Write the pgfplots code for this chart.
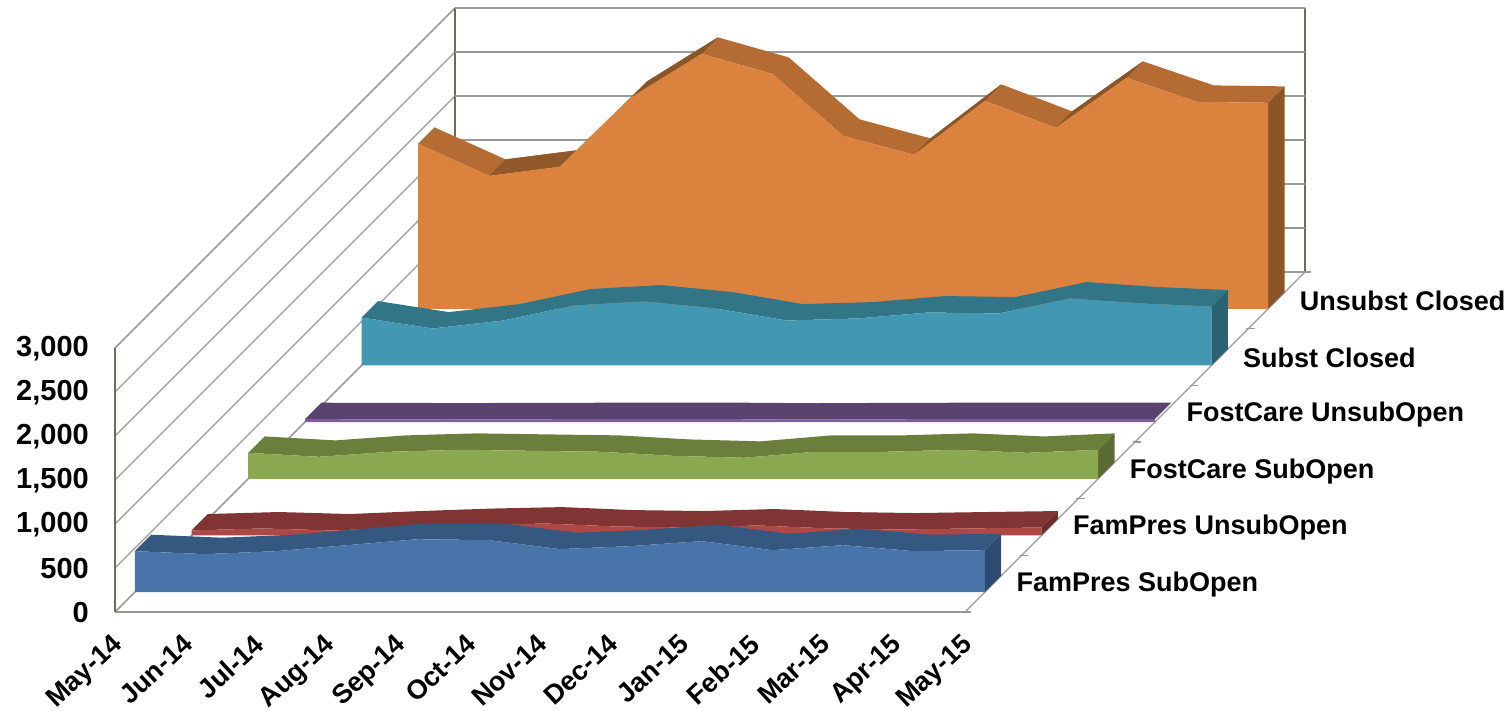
\documentclass[border=0pt]{standalone}
\usepackage{fontspec}
\setmainfont{Liberation Sans}
\usepackage{pgfplots}
\pgfplotsset{compat=1.18}
\definecolor{gridc}{HTML}{999999}
\definecolor{axisc}{HTML}{6F6C55}
\definecolor{orF}{HTML}{DB833E}\definecolor{orT}{HTML}{B46C33}\definecolor{orS}{HTML}{8B5528}
\definecolor{teF}{HTML}{4298B3}\definecolor{teT}{HTML}{327587}\definecolor{teS}{HTML}{2A6173}
\definecolor{puF}{HTML}{7D5D9A}\definecolor{puT}{HTML}{5A436F}
\definecolor{grF}{HTML}{8AA84F}\definecolor{grT}{HTML}{6A7F3C}\definecolor{grS}{HTML}{5A6B33}
\definecolor{reF}{HTML}{AE4845}\definecolor{reT}{HTML}{803434}\definecolor{reS}{HTML}{6E2B2B}
\definecolor{blF}{HTML}{4874AA}\definecolor{blT}{HTML}{34587F}\definecolor{blS}{HTML}{2E4A70}
\begin{document}
\begin{tikzpicture}[x=1pt,y=1pt]
\useasboundingbox (0,0) rectangle (1509,711);
\begin{axis}[
  at={(115pt,99pt)}, anchor=origin,
  x={(70.83pt,0pt)}, y={(56.67pt,56.67pt)}, z={(0pt,0.088pt)},
  xmin=0, xmax=12, ymin=0, ymax=6, zmin=0, zmax=3000,
  clip=false,
  xtick={0,...,12},
  xticklabels={May-14,Jun-14,Jul-14,Aug-14,Sep-14,Oct-14,Nov-14,Dec-14,Jan-15,Feb-15,Mar-15,Apr-15,May-15},
  ytick={0.5,1.5,2.5,3.5,4.5,5.5},
  yticklabels={FamPres SubOpen,FamPres UnsubOpen,FostCare SubOpen,FostCare UnsubOpen,Subst Closed,Unsubst Closed},
  ytick pos=left,
  xtick pos=left,
  ztick pos=left,
  ztick={0,500,...,3000},
  zmajorgrids=true,
  major grid style={draw=gridc,line width=1.2pt},
  tick label style={font=\fontsize{27}{30}\selectfont\bfseries,inner sep=0pt},
  /pgf/number format/.cd, 1000 sep={,}, assume math mode=true,
  /pgfplots/.cd,
  xticklabel style={rotate=43,anchor=north east,xshift=-17pt,yshift=-12pt},
  yticklabel style={anchor=west,xshift=23pt,yshift=-1pt},
  zticklabel style={font=\fontsize{29}{30}\selectfont\bfseries,anchor=east,xshift=-26pt,yshift=-1pt},
  major tick length=0pt,
  axis line style={draw=gridc,line width=1.3pt},
  every outer z axis line/.append style={draw=axisc,line width=1.5pt},
  unbounded coords=jump,
]
% depth axis ticks along the right edge of the floor
\addplot3[draw=gridc,line width=1.2pt] coordinates {(11.97,0,0)(12.09,0,0)(12,0,nan)(11.97,1,0)(12.09,1,0)(12,1,nan)(11.97,2,0)(12.09,2,0)(12,2,nan)(11.97,3,0)(12.09,3,0)(12,3,nan)(11.97,4,0)(12.09,4,0)(12,4,nan)(11.97,5,0)(12.09,5,0)(12,5,nan)(11.97,6,0)(12.09,6,0)};
% Unsubst Closed
\addplot3[fill=orT,draw=none] coordinates {(0,5.35,1875)(1,5.35,1511)(2,5.35,1614)(3,5.35,2398)(4,5.35,2898)(5,5.35,2670)(6,5.35,1966)(7,5.35,1750)(8,5.35,2364)(9,5.35,2057)(10,5.35,2625)(11,5.35,2352)(12,5.35,2341)
 (12,5.64,2341)(11,5.64,2352)(10,5.64,2625)(9,5.64,2057)(8,5.64,2364)(7,5.64,1750)(6,5.64,1966)(5,5.64,2670)(4,5.64,2898)(3,5.64,2398)(2,5.64,1614)(1,5.64,1511)(0,5.64,1875)};
\addplot3[fill=orS!85!orT,draw=none] coordinates {(1,5.35,1511)(2,5.35,1614)(2,5.64,1614)(1,5.64,1511)};
\addplot3[fill=orS,draw=none] coordinates {(3,5.35,2398)(4,5.35,2898)(4,5.64,2898)(3,5.64,2398)};
\addplot3[fill=orS,draw=none] coordinates {(7,5.35,1750)(8,5.35,2364)(8,5.64,2364)(7,5.64,1750)};
\addplot3[fill=orS,draw=none] coordinates {(9,5.35,2057)(10,5.35,2625)(10,5.64,2625)(9,5.64,2057)};
\addplot3[fill=orS,draw=none] coordinates {(12,5.35,0)(12,5.64,0)(12,5.64,2341)(12,5.35,2341)};
\addplot3[fill=orF,draw=none] coordinates {(0,5.35,0)(0,5.35,1875)(1,5.35,1511)(2,5.35,1614)(3,5.35,2398)(4,5.35,2898)(5,5.35,2670)(6,5.35,1966)(7,5.35,1750)(8,5.35,2364)(9,5.35,2057)(10,5.35,2625)(11,5.35,2352)(12,5.35,2341)(12,5.35,0)};
% Subst Closed
\addplot3[fill=teT,draw=none] coordinates {(0,4.35,545)(1,4.35,420)(2,4.35,511)(3,4.35,682)(4,4.35,727)(5,4.35,648)(6,4.35,511)(7,4.35,534)(8,4.35,602)(9,4.35,591)(10,4.35,761)(11,4.35,705)(12,4.35,670)
 (12,4.64,670)(11,4.64,705)(10,4.64,761)(9,4.64,591)(8,4.64,602)(7,4.64,534)(6,4.64,511)(5,4.64,648)(4,4.64,727)(3,4.64,682)(2,4.64,511)(1,4.64,420)(0,4.64,545)};
\addplot3[fill=teS,draw=none] coordinates {(12,4.35,0)(12,4.64,0)(12,4.64,670)(12,4.35,670)};
\addplot3[fill=teF,draw=none] coordinates {(0,4.35,0)(0,4.35,545)(1,4.35,420)(2,4.35,511)(3,4.35,682)(4,4.35,727)(5,4.35,648)(6,4.35,511)(7,4.35,534)(8,4.35,602)(9,4.35,591)(10,4.35,761)(11,4.35,705)(12,4.35,670)(12,4.35,0)};
% FostCare UnsubOpen
\addplot3[fill=puT,draw=none] coordinates {(0,3.35,34)(1,3.35,32)(2,3.35,30)(3,3.35,32)(4,3.35,34)(5,3.35,34)(6,3.35,34)(7,3.35,28)(8,3.35,32)(9,3.35,34)(10,3.35,34)(11,3.35,34)(12,3.35,34)
 (12,3.64,34)(11,3.64,34)(10,3.64,34)(9,3.64,34)(8,3.64,32)(7,3.64,28)(6,3.64,34)(5,3.64,34)(4,3.64,34)(3,3.64,32)(2,3.64,30)(1,3.64,32)(0,3.64,34)};
\addplot3[fill=puF,draw=none] coordinates {(0,3.35,0)(0,3.35,34)(1,3.35,32)(2,3.35,30)(3,3.35,32)(4,3.35,34)(5,3.35,34)(6,3.35,34)(7,3.35,28)(8,3.35,32)(9,3.35,34)(10,3.35,34)(11,3.35,34)(12,3.35,34)(12,3.35,0)};
% FostCare SubOpen
\addplot3[fill=grT,draw=none] coordinates {(0,2.35,295)(1,2.35,250)(2,2.35,307)(3,2.35,330)(4,2.35,318)(5,2.35,307)(6,2.35,261)(7,2.35,239)(8,2.35,307)(9,2.35,307)(10,2.35,330)(11,2.35,295)(12,2.35,330)
 (12,2.64,330)(11,2.64,295)(10,2.64,330)(9,2.64,307)(8,2.64,307)(7,2.64,239)(6,2.64,261)(5,2.64,307)(4,2.64,318)(3,2.64,330)(2,2.64,307)(1,2.64,250)(0,2.64,295)};
\addplot3[fill=grS,draw=none] coordinates {(12,2.35,0)(12,2.64,0)(12,2.64,330)(12,2.35,330)};
\addplot3[fill=grF,draw=none] coordinates {(0,2.35,0)(0,2.35,295)(1,2.35,250)(2,2.35,307)(3,2.35,330)(4,2.35,318)(5,2.35,307)(6,2.35,261)(7,2.35,239)(8,2.35,307)(9,2.35,307)(10,2.35,330)(11,2.35,295)(12,2.35,330)(12,2.35,0)};
% FamPres UnsubOpen
\addplot3[fill=reT,draw=none] coordinates {(0,1.35,57)(1,1.35,80)(2,1.35,57)(3,1.35,91)(4,1.35,119)(5,1.35,136)(6,1.35,102)(7,1.35,91)(8,1.35,114)(9,1.35,80)(10,1.35,68)(11,1.35,80)(12,1.35,91)
 (12,1.64,91)(11,1.64,80)(10,1.64,68)(9,1.64,80)(8,1.64,114)(7,1.64,91)(6,1.64,102)(5,1.64,136)(4,1.64,119)(3,1.64,91)(2,1.64,57)(1,1.64,80)(0,1.64,57)};
\addplot3[fill=reS,draw=none] coordinates {(12,1.35,0)(12,1.64,0)(12,1.64,91)(12,1.35,91)};
\addplot3[fill=reF,draw=none] coordinates {(0,1.35,0)(0,1.35,57)(1,1.35,80)(2,1.35,57)(3,1.35,91)(4,1.35,119)(5,1.35,136)(6,1.35,102)(7,1.35,91)(8,1.35,114)(9,1.35,80)(10,1.35,68)(11,1.35,80)(12,1.35,91)(12,1.35,0)};
% FamPres SubOpen
\addplot3[fill=blT,draw=none] coordinates {(0,0.35,466)(1,0.35,432)(2,0.35,466)(3,0.35,534)(4,0.35,602)(5,0.35,591)(6,0.35,489)(7,0.35,523)(8,0.35,580)(9,0.35,477)(10,0.35,534)(11,0.35,466)(12,0.35,477)
 (12,0.64,477)(11,0.64,466)(10,0.64,534)(9,0.64,477)(8,0.64,580)(7,0.64,523)(6,0.64,489)(5,0.64,591)(4,0.64,602)(3,0.64,534)(2,0.64,466)(1,0.64,432)(0,0.64,466)};
\addplot3[fill=blS,draw=none] coordinates {(12,0.35,0)(12,0.64,0)(12,0.64,477)(12,0.35,477)};
\addplot3[fill=blF,draw=none] coordinates {(0,0.35,0)(0,0.35,466)(1,0.35,432)(2,0.35,466)(3,0.35,534)(4,0.35,602)(5,0.35,591)(6,0.35,489)(7,0.35,523)(8,0.35,580)(9,0.35,477)(10,0.35,534)(11,0.35,466)(12,0.35,477)(12,0.35,0)};
\end{axis}
\end{tikzpicture}
\end{document}
